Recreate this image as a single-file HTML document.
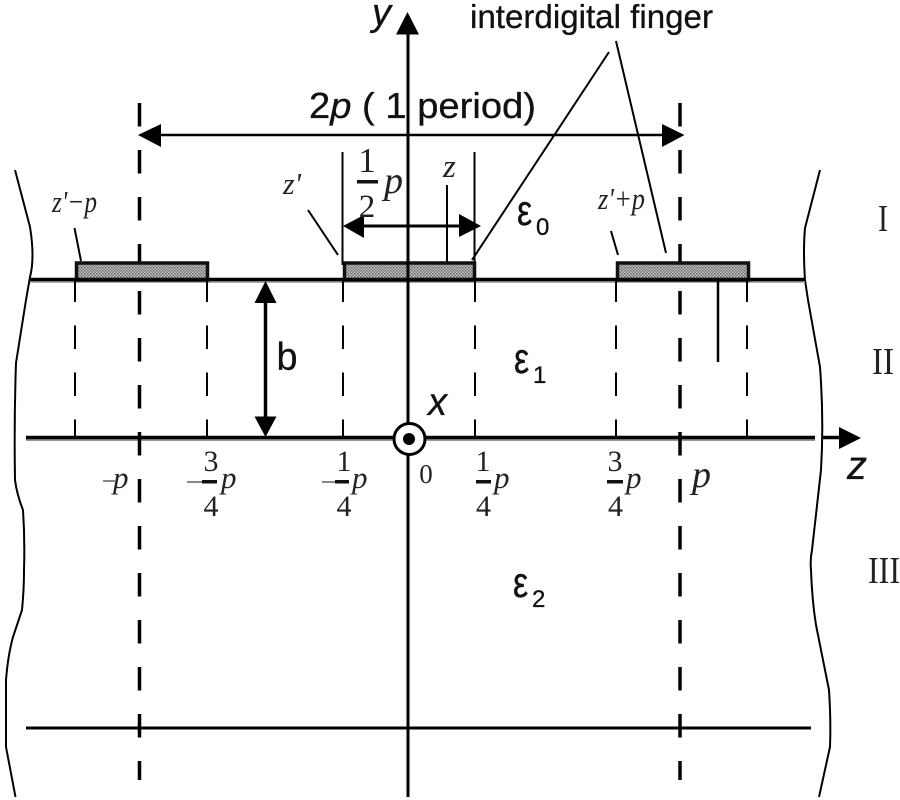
<!DOCTYPE html>
<html>
<head>
<meta charset="utf-8">
<style>
html,body{margin:0;padding:0;background:#fff;width:900px;height:800px;overflow:hidden}
svg{display:block}
.s{font-family:"Liberation Sans",sans-serif;fill:#111;stroke:#111;stroke-width:.3}
.r{font-family:"Liberation Serif",serif;fill:#222}
.i{font-style:italic}
</style>
</head>
<body>
<svg width="900" height="800" viewBox="0 0 900 800" xmlns="http://www.w3.org/2000/svg">
<defs>
<pattern id="h" width="3" height="3" patternUnits="userSpaceOnUse">
<rect width="3" height="3" fill="#c4c4c4"/>
<rect x="0" y="0" width="1.5" height="1.5" fill="#666"/>
<rect x="1.5" y="1.5" width="1.5" height="1.5" fill="#777"/>
</pattern>
</defs>

<!-- wavy borders -->
<g fill="none" stroke="#000" stroke-width="2" stroke-linejoin="round">
<path d="M15,170 L30,227 Q35,258 30,277 L26,300 L16,363 Q14,420 15,480 Q17,495 23,510 Q25,540 24,570 Q24,590 22,610 L13,637 Q8,655 6,680 L6,747 L15.5,797"/>
<path d="M820,170 L805,228 Q803,250 805,280 L808,300 L820,367 Q824,420 821,470 L812,550 Q810,560 811,570 Q812,600 816,625 L829,690 Q831,720 830,747 L819,797"/>
</g>

<!-- grey under-lines -->
<rect x="30" y="281" width="775" height="2" fill="#aaa"/>
<rect x="26" y="439" width="789" height="2" fill="#999"/>

<!-- short dashes -->
<g stroke="#000" stroke-width="2" stroke-dasharray="23.5 23.5">
<line x1="75" y1="278.5" x2="75" y2="438"/>
<line x1="207" y1="278.5" x2="207" y2="438"/>
<line x1="343" y1="278.5" x2="343" y2="438"/>
<line x1="475" y1="278.5" x2="475" y2="438"/>
<line x1="616" y1="278.5" x2="616" y2="438"/>
<line x1="747" y1="278.5" x2="747" y2="438"/>
</g>

<!-- long dashes -->
<g stroke="#000" stroke-width="3.5" stroke-dasharray="23.5 23.5">
<line x1="139.5" y1="103" x2="139.5" y2="780"/>
<line x1="680" y1="103" x2="680" y2="780"/>
</g>

<!-- thin verticals -->
<g stroke="#000" stroke-width="2">
<line x1="342.5" y1="152" x2="342.5" y2="265"/>
<line x1="474.5" y1="152" x2="474.5" y2="265"/>
<line x1="447" y1="185" x2="447" y2="265"/>
</g>
<line x1="718" y1="280" x2="718" y2="362" stroke="#000" stroke-width="2.5"/>

<!-- fingers -->
<g fill="url(#h)" stroke="#111" stroke-width="3.5">
<rect x="76.5" y="263" width="131" height="17"/>
<rect x="344.5" y="263" width="130" height="17"/>
<rect x="617.5" y="263" width="131" height="17"/>
</g>

<!-- main lines -->
<line x1="30" y1="279.5" x2="805" y2="279.5" stroke="#000" stroke-width="3.5"/>
<line x1="26" y1="437.5" x2="815" y2="437.5" stroke="#000" stroke-width="3.5"/>
<line x1="822" y1="437.5" x2="842" y2="437.5" stroke="#000" stroke-width="3.5"/>
<polygon points="861,438 839,427 839,449" fill="#000"/>
<line x1="26" y1="728" x2="811" y2="728" stroke="#000" stroke-width="3"/>

<!-- y axis -->
<line x1="408" y1="30" x2="408" y2="797" stroke="#000" stroke-width="3"/>
<polygon points="407.5,12 396,34.5 419,34.5" fill="#000"/>

<!-- 2p arrow -->
<line x1="155" y1="135" x2="668" y2="135" stroke="#000" stroke-width="2.5"/>
<polygon points="138,135 161,124 161,147" fill="#000"/>
<polygon points="684.5,135 662,124 662,147" fill="#000"/>

<!-- inner arrow -->
<line x1="360" y1="226" x2="462" y2="226" stroke="#000" stroke-width="3"/>
<polygon points="343,226 364,215 364,238" fill="#000"/>
<polygon points="481,226 459,214 459,237" fill="#000"/>

<!-- b arrow -->
<line x1="265.5" y1="295" x2="265.5" y2="420" stroke="#000" stroke-width="3.5"/>
<polygon points="265.5,281 254.5,303 276.5,303" fill="#000"/>
<polygon points="265.5,437 254.5,416.5 276.5,416.5" fill="#000"/>

<!-- leader lines -->
<g stroke="#000" stroke-width="2" fill="none">
<line x1="609" y1="52" x2="472" y2="260"/>
<line x1="616" y1="41" x2="666" y2="253"/>
<line x1="74.5" y1="228" x2="81" y2="261"/>
<line x1="308" y1="210" x2="338" y2="255"/>
<line x1="611" y1="231" x2="618" y2="255"/>
</g>

<!-- origin -->
<circle cx="409.5" cy="439" r="15.5" fill="#fff" stroke="#000" stroke-width="3"/>
<circle cx="409" cy="439" r="6" fill="#000"/>

<!-- sans labels -->
<text class="s i" x="372" y="25" font-size="38">y</text>
<text class="s" x="470" y="28" font-size="33" textLength="243" lengthAdjust="spacingAndGlyphs">interdigital finger</text>
<text class="s" x="309" y="118" font-size="36" textLength="227" lengthAdjust="spacingAndGlyphs">2<tspan class="i">p</tspan> ( 1 period)</text>
<text class="s" x="276.5" y="370" font-size="39" textLength="21" lengthAdjust="spacingAndGlyphs">b</text>
<text class="s i" x="428" y="415" font-size="39" textLength="19" lengthAdjust="spacingAndGlyphs">x</text>
<text class="s i" x="847" y="479" font-size="40">z</text>

<!-- epsilons -->
<text class="s" transform="translate(517 225) scale(1 1.25)" font-size="34">ε</text>
<text class="s" x="536" y="235" font-size="24">0</text>
<text class="s" transform="translate(514 373) scale(1 1.25)" font-size="34">ε</text>
<text class="s" x="533" y="383" font-size="24">1</text>
<text class="s" transform="translate(513 597) scale(1 1.25)" font-size="34">ε</text>
<text class="s" x="532" y="607" font-size="24">2</text>

<!-- regions -->
<text class="r" x="878" y="231" font-size="38" textLength="10" lengthAdjust="spacingAndGlyphs">I</text>
<text class="r" x="872" y="374" font-size="38" textLength="22" lengthAdjust="spacingAndGlyphs">II</text>
<text class="r" x="868" y="583" font-size="38" textLength="32" lengthAdjust="spacingAndGlyphs">III</text>

<!-- small italic labels -->
<text class="r i" x="52" y="212" font-size="31" textLength="45" lengthAdjust="spacingAndGlyphs">z'−p</text>
<text class="r i" x="283" y="194" font-size="31" textLength="18" lengthAdjust="spacingAndGlyphs">z'</text>
<text class="r i" x="443" y="177" font-size="33">z</text>
<text class="r i" x="598" y="209" font-size="31" textLength="47" lengthAdjust="spacingAndGlyphs">z'+p</text>

<!-- 1/2 p -->
<text class="r" x="367" y="172" font-size="35" text-anchor="middle">1</text>
<rect x="357" y="180" width="21" height="3.5" fill="#111"/>
<text class="r" x="367" y="217" font-size="33" text-anchor="middle">2</text>
<text class="r i" x="384" y="193" font-size="38">p</text>

<!-- axis fractions -->
<rect x="103" y="480" width="12" height="2" fill="#888"/>
<text class="r i" x="113" y="488" font-size="31">p</text>

<text class="r" x="211" y="471" font-size="30" text-anchor="middle">3</text>
<rect x="187" y="481" width="16" height="2" fill="#888"/>
<rect x="202" y="480" width="15" height="3.5" fill="#111"/>
<text class="r" x="211" y="516" font-size="30" text-anchor="middle">4</text>
<text class="r i" x="221" y="488" font-size="31">p</text>

<text class="r" x="344" y="471" font-size="30" text-anchor="middle">1</text>
<rect x="322" y="481" width="14" height="2" fill="#888"/>
<rect x="335" y="480" width="14" height="3.5" fill="#111"/>
<text class="r" x="344" y="516" font-size="30" text-anchor="middle">4</text>
<text class="r i" x="352" y="488" font-size="31">p</text>

<text class="r" x="426" y="483" font-size="27" text-anchor="middle">0</text>

<text class="r" x="483" y="471" font-size="30" text-anchor="middle">1</text>
<rect x="476" y="480" width="15" height="3.5" fill="#111"/>
<text class="r" x="483.5" y="516" font-size="30" text-anchor="middle">4</text>
<text class="r i" x="494" y="488" font-size="31">p</text>

<text class="r" x="615" y="471" font-size="30" text-anchor="middle">3</text>
<rect x="607" y="480" width="16" height="3.5" fill="#111"/>
<text class="r" x="615.5" y="516" font-size="30" text-anchor="middle">4</text>
<text class="r i" x="626" y="488" font-size="31">p</text>

<text class="r i" x="692" y="487" font-size="38">p</text>
</svg>
</body>
</html>
